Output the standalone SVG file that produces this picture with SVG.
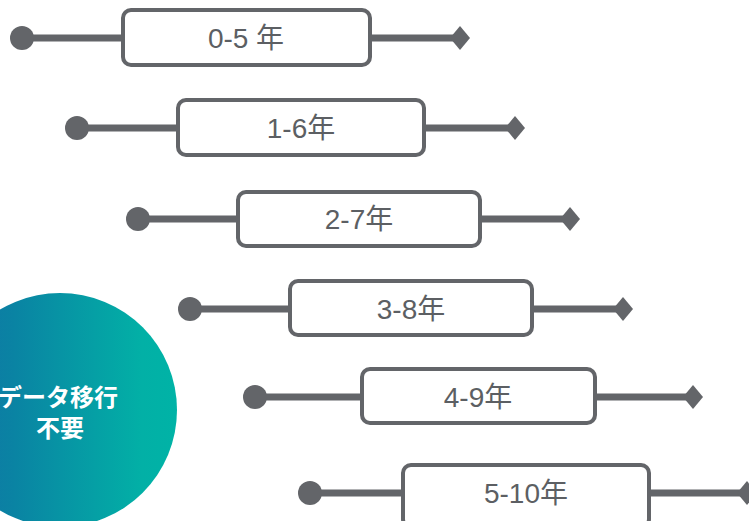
<svg xmlns="http://www.w3.org/2000/svg" width="749" height="521" viewBox="0 0 749 521">
<defs>
<linearGradient id="g" x1="-57" y1="0" x2="177" y2="0" gradientUnits="userSpaceOnUse">
<stop offset="0" stop-color="#1372a6"/>
<stop offset="0.3" stop-color="#0a83a3"/>
<stop offset="0.85" stop-color="#02b0a6"/>
<stop offset="1" stop-color="#00b3a6"/>
</linearGradient>
</defs>
<style>
.ln{stroke:#636569;stroke-width:7;fill:none}
.dot{fill:#636569}
.dm{fill:#636569}
.box{fill:#fff;stroke:#636569;stroke-width:4}
.lb{font-family:"Liberation Sans","Noto Sans CJK JP",sans-serif;font-size:28px;fill:#5c5f63;text-anchor:middle}
.ct{font-family:"Noto Sans CJK JP",sans-serif;font-size:24px;font-weight:bold;fill:#fff;text-anchor:middle}
</style>
<rect width="749" height="521" fill="#fff"/>
<g id="circle">
<circle cx="60" cy="410" r="117" fill="url(#g)"/>
<text class="ct" x="58" y="406">データ移行</text>
<text class="ct" x="60" y="437">不要</text>
</g>
<g id="connectors">
<line class="ln" x1="22" y1="38" x2="123" y2="38"/>
<line class="ln" x1="370" y1="38" x2="455" y2="38"/>
<line class="ln" x1="77" y1="128" x2="178" y2="128"/>
<line class="ln" x1="424" y1="128" x2="510" y2="128"/>
<line class="ln" x1="138" y1="219" x2="238" y2="219"/>
<line class="ln" x1="480" y1="219" x2="565" y2="219"/>
<line class="ln" x1="190" y1="309" x2="290" y2="309"/>
<line class="ln" x1="532" y1="309" x2="618" y2="309"/>
<line class="ln" x1="255" y1="397" x2="362" y2="397"/>
<line class="ln" x1="595" y1="397" x2="688" y2="397"/>
<line class="ln" x1="310" y1="493" x2="403" y2="493"/>
<line class="ln" x1="649" y1="493" x2="742" y2="493"/>
<circle class="dot" cx="22" cy="38" r="12"/>
<circle class="dot" cx="77" cy="128" r="12"/>
<circle class="dot" cx="138" cy="219" r="12"/>
<circle class="dot" cx="190" cy="309" r="12"/>
<circle class="dot" cx="255" cy="397" r="12"/>
<circle class="dot" cx="310" cy="493" r="12"/>
<polygon class="dm" points="450,38 460,26 470,38 460,50"/>
<polygon class="dm" points="505,128 515,116 525,128 515,140"/>
<polygon class="dm" points="560,219 570,207 580,219 570,231"/>
<polygon class="dm" points="613,309 623,297 633,309 623,321"/>
<polygon class="dm" points="683,397 693,385 703,397 693,409"/>
<polygon class="dm" points="737,493 747,481 757,493 747,505"/>
</g>
<g id="n1"><rect class="box" x="123" y="10" width="247" height="55" rx="8"/><text class="lb" x="246" y="48">0-5 年</text></g>
<g id="n2"><rect class="box" x="178" y="100" width="246" height="55" rx="8"/><text class="lb" x="301" y="138">1-6年</text></g>
<g id="n3"><rect class="box" x="238" y="192" width="242" height="54" rx="8"/><text class="lb" x="359" y="229">2-7年</text></g>
<g id="n4"><rect class="box" x="290" y="281" width="242" height="54" rx="8"/><text class="lb" x="411" y="319">3-8年</text></g>
<g id="n5"><rect class="box" x="362" y="369" width="233" height="54" rx="8"/><text class="lb" x="478" y="407">4-9年</text></g>
<g id="n6"><rect class="box" x="403" y="465" width="246" height="62" rx="8"/><text class="lb" x="526" y="503">5-10年</text></g>
</svg>
